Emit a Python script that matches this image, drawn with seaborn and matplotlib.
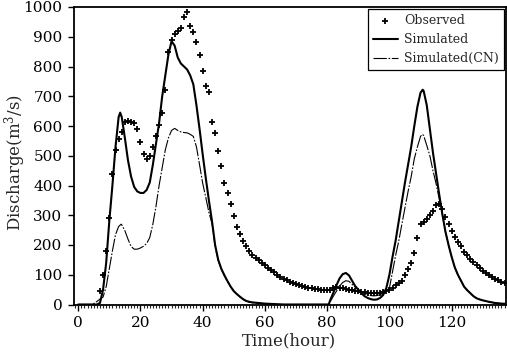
import numpy as np
import pandas as pd
import matplotlib
matplotlib.use("Agg")
import matplotlib.pyplot as plt
import seaborn as sns
from matplotlib.ticker import MultipleLocator

# Observed discharge (hourly)
obs_t = list(range(7, 138))
obs_q = [45, 100, 180, 290, 440, 520, 555, 580, 612, 618,
         615, 610, 590, 547, 505, 488, 500, 530, 565, 605,
         643, 722, 848, 890, 908, 918, 928, 965, 984, 937,
         915, 882, 840, 784, 735, 713, 612, 578, 516, 467,
         410, 374, 337, 297, 260, 237, 215, 195, 180, 168,
         156, 148, 140, 133, 124, 116, 108, 100, 93, 87,
         82, 77, 73, 69, 66, 63, 60, 57, 55, 53,
         51, 50, 49, 48, 50, 54, 58, 56, 54, 52,
         50, 48, 46, 45, 43, 42, 40, 40, 39, 39,
         40, 42, 45, 50, 57, 65, 72, 80, 100, 120,
         140, 172, 225, 272, 278, 288, 300, 315, 335, 338,
         320, 295, 270, 248, 228, 210, 195, 178, 165, 152,
         142, 132, 122, 114, 106, 98, 92, 86, 81, 77,
         73]

# Simulated discharge
sim_t = [0, 6, 7, 8, 9, 10, 11, 12, 13, 13.5, 14, 15, 16, 17, 18, 19, 20, 21, 22, 23,
         24, 25, 26, 27, 28, 29, 30, 31, 32, 33, 34, 35, 36, 37, 38, 39, 40, 41, 42, 43,
         44, 45, 46, 47, 48, 49, 50, 51, 52, 53, 54, 55, 56, 57, 58, 59, 60, 62, 64, 66,
         80, 80.5, 81, 82, 83, 84, 85, 86, 87, 88, 89, 90, 91, 92, 93, 94, 95, 96, 97, 98,
         99, 100, 101, 102, 103, 104, 105, 106, 107, 108, 109, 110, 110.7, 111, 112, 113,
         114, 115, 116, 117, 118, 119, 120, 121, 122, 123, 124, 125, 126, 127, 128, 129,
         130, 132, 134, 136, 138]
sim_q = [0, 0, 5, 50, 140, 280, 400, 530, 630, 645, 630, 560, 485, 430, 395, 380, 375, 375, 385, 410,
         470, 540, 610, 700, 770, 840, 885, 870, 830, 810, 800, 790, 770, 740, 670, 590, 505, 425, 350, 280,
         200, 150, 120, 98, 78, 60, 45, 35, 26, 18, 12, 9, 7, 6, 5, 4, 3, 2, 1, 0,
         0, 0, 15, 40, 65, 88, 102, 106, 98, 80, 62, 50, 38, 28, 22, 18, 16, 17, 22, 32,
         55, 100, 160, 215, 280, 345, 410, 470, 530, 600, 665, 712, 722, 718, 670, 590,
         510, 440, 370, 304, 245, 200, 160, 125, 100, 80, 60, 48, 38, 28, 21, 17,
         14, 9, 5, 3, 2]

# Simulated discharge (CN)
cn_t = [0, 4, 5, 6, 7, 8, 9, 10, 11, 12, 13, 13.8, 14, 15, 16, 17, 18, 19, 20, 21,
        22, 23, 24, 25, 26, 27, 28, 29, 30, 31, 32, 33, 34, 35, 36, 37, 38, 39, 40, 41,
        42, 43, 44, 45, 46, 47, 48, 49, 50, 51, 52, 53, 54, 55, 56, 57, 58, 59, 60, 62,
        64, 66, 80, 80.5, 81, 82, 83, 84, 85, 86, 87, 88, 89, 90, 91, 92, 93, 94, 95, 96,
        97, 98, 99, 100, 101, 102, 103, 104, 105, 106, 107, 108, 109, 110, 110.6, 111, 112,
        113, 114, 115, 116, 117, 118, 119, 120, 121, 122, 123, 124, 125, 126, 127, 128,
        129, 130, 132, 134, 136, 138]
cn_q = [0, 0, 3, 10, 18, 25, 60, 120, 180, 235, 262, 270, 268, 248, 220, 195, 186, 186, 190, 196,
        205, 225, 270, 330, 400, 460, 520, 560, 585, 592, 585, 580, 578, 577, 572, 565, 530, 470, 408, 360,
        310, 272, 195, 148, 118, 96, 77, 59, 44, 34, 25, 17, 11, 8, 6, 5, 4, 3, 2, 1,
        0, 0, 0, 0, 10, 28, 45, 62, 74, 80, 78, 68, 58, 50, 42, 36, 32, 30, 29, 30,
        33, 38, 45, 55, 110, 165, 213, 270, 325, 380, 430, 490, 530, 565, 572, 568, 535,
        500, 450, 406, 355, 304, 245, 200, 160, 125, 100, 80, 60, 48, 38, 28, 21,
        17, 14, 9, 5, 3, 2]

sns.set_style("ticks")
plt.rcParams['font.family'] = ['DejaVu Serif']
plt.rcParams['mathtext.fontset'] = 'dejavuserif'

fig = plt.figure(figsize=(5.07, 3.52), dpi=100)
ax = fig.add_axes([73.5 / 507, 1 - 304.5 / 352, (505.5 - 73.5) / 507, (304.5 - 7) / 352])

sns.lineplot(x=sim_t, y=sim_q, ax=ax, color='black', linewidth=1.5,
             label='Simulated', sort=False)
sns.lineplot(x=cn_t, y=cn_q, ax=ax, color='black', linewidth=0.8,
             linestyle=(0, (12, 1.5, 1.5, 1.5)), label='Simulated(CN)', sort=False)
sns.scatterplot(x=obs_t, y=obs_q, ax=ax, marker='+', s=24, color='black',
                linewidth=1.3, label='Observed', zorder=3)

ax.set_xlim(-1.5, 137.3)
ax.set_ylim(0, 1000)
ax.xaxis.set_major_locator(MultipleLocator(20))
ax.xaxis.set_minor_locator(MultipleLocator(1))
ax.yaxis.set_major_locator(MultipleLocator(100))
ax.tick_params(axis='both', which='major', direction='out', length=4, width=1,
               labelsize=11, colors='black', pad=4)
ax.tick_params(axis='x', which='minor', direction='out', length=2.5, width=0.8)
for sp in ax.spines.values():
    sp.set_visible(True)
    sp.set_color('black')
    sp.set_linewidth(1.3)

ax.set_xlabel('Time(hour)', fontsize=12, labelpad=2)
ax.set_ylabel(r'Discharge(m$^3$/s)', fontsize=12)
ax.yaxis.set_label_coords(-0.106, 0.476)

handles, labels = ax.get_legend_handles_labels()
order = [labels.index(l) for l in ['Observed', 'Simulated', 'Simulated(CN)']]
leg = ax.legend([handles[i] for i in order], [labels[i] for i in order],
                loc='upper right', fontsize=9, frameon=True, fancybox=False,
                edgecolor='black', framealpha=1, borderaxespad=0.15,
                handlelength=2.0, handletextpad=0.5, labelspacing=0.5,
                borderpad=0.4)
leg.get_frame().set_linewidth(0.9)

fig.savefig('out.png', dpi=100)
